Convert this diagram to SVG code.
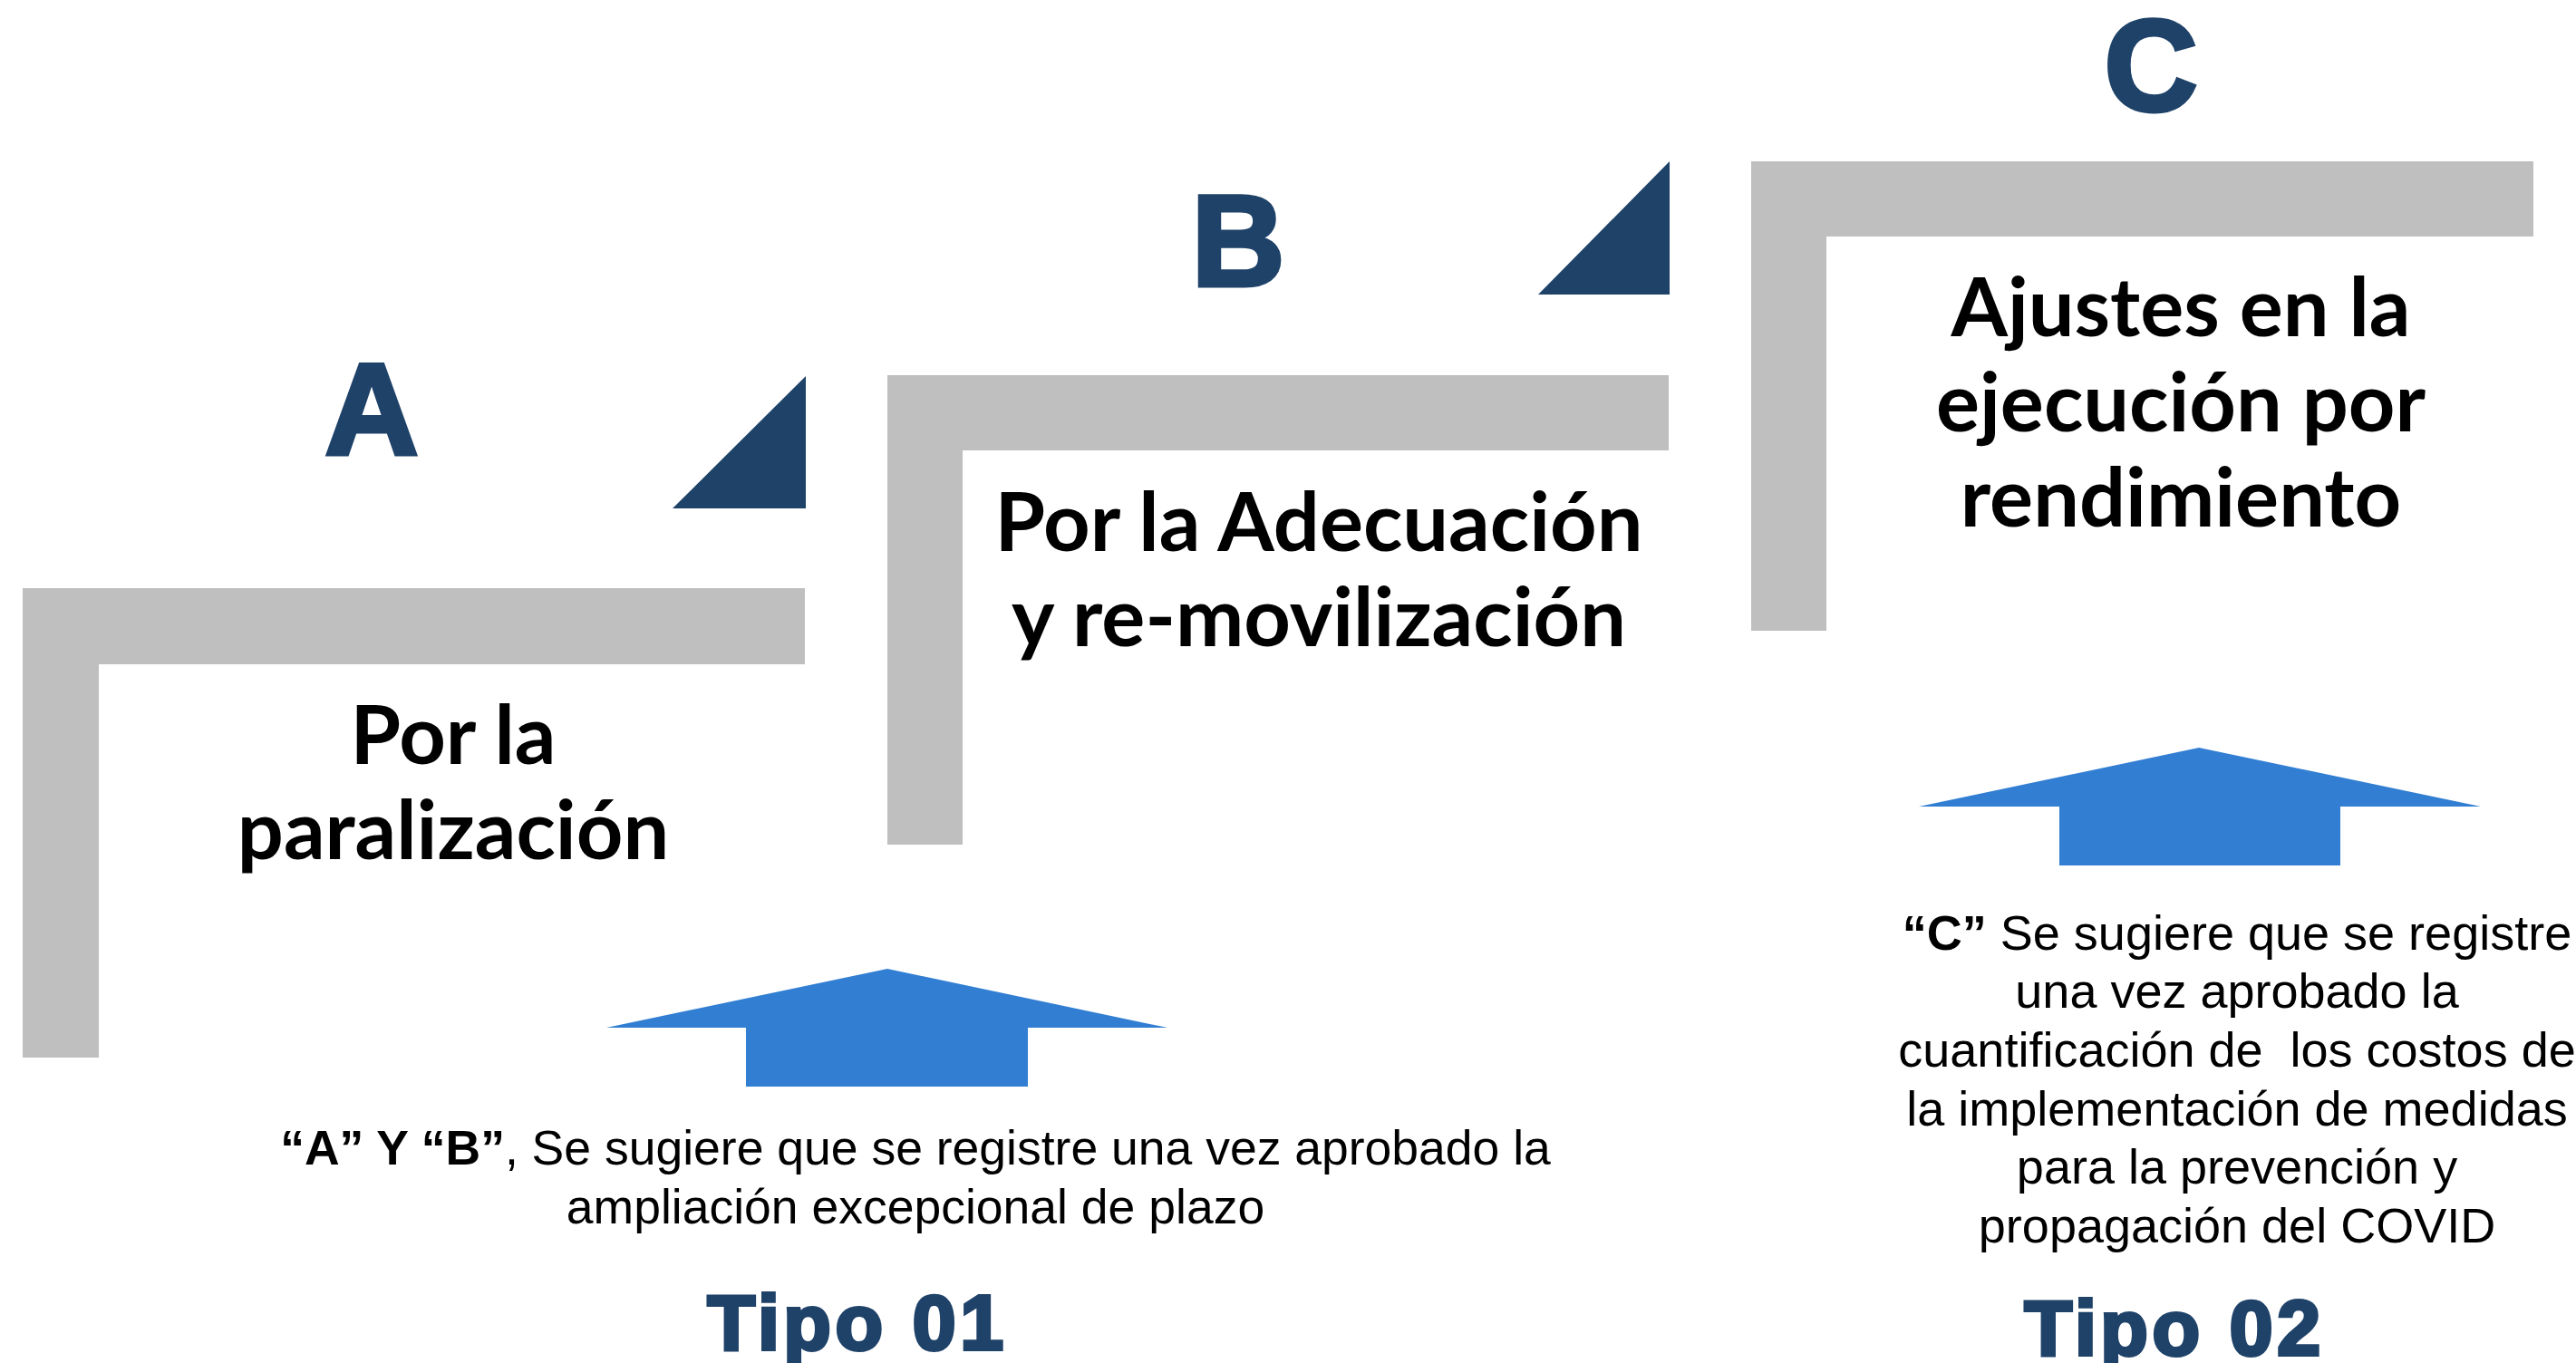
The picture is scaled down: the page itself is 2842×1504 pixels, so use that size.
<svg xmlns="http://www.w3.org/2000/svg" width="2842" height="1504" viewBox="0 0 2842 1504">
<style>
.step{fill:#BFBFBF}
.tri{fill:#1F4269}
.arrow{fill:#317ED2}
.letter{font-family:"Liberation Sans",Arial,sans-serif;font-weight:bold;font-size:142px;fill:#1F4269;stroke:#1F4269;stroke-width:5;text-anchor:middle}
.head{font-family:Lato,"Liberation Sans",sans-serif;font-weight:bold;font-size:90px;fill:#000;text-anchor:middle}
.note{font-family:"Liberation Sans",Arial,sans-serif;font-size:53.5px;fill:#000;text-anchor:middle}
.note2{font-family:"Liberation Sans",Arial,sans-serif;font-size:54px;fill:#000;text-anchor:middle}
.tipo{font-family:"Liberation Sans",Arial,sans-serif;font-weight:bold;font-size:86px;fill:#1F4269;stroke:#1F4269;stroke-width:4;text-anchor:middle;letter-spacing:4.5px}
</style>
<rect width="2842" height="1504" fill="#fff"/>
<g id="step-A">
<path class="step" d="M25 649 H888 V733 H109 V1167 H25 Z"/>
<polygon class="tri" points="889,415 889,561 742,561"/>
<text class="letter" x="410" y="501">A</text>
<text class="head" x="500" y="843">Por la</text>
<text class="head" x="500" y="948">paralización</text>
</g>
<g id="step-B">
<path class="step" d="M979 414 H1841 V497 H1062 V932 H979 Z"/>
<polygon class="tri" points="1842,178 1842,325 1697,325"/>
<text class="letter" x="1366" y="315">B</text>
<text class="head" x="1455" y="608">Por la Adecuación</text>
<text class="head" x="1455" y="713">y re-movilización</text>
</g>
<g id="step-C">
<path class="step" d="M1932 178 H2795 V261 H2015 V696 H1932 Z"/>
<text class="letter" x="2373" y="122">C</text>
<text class="head" x="2406" y="371">Ajustes en la</text>
<text class="head" x="2406" y="476">ejecución por</text>
<text class="head" x="2406" y="581">rendimiento</text>
</g>
<g id="connectors">
<polygon id="arrow-1" class="arrow" points="979,1069 1288,1134 1134,1134 1134,1199 823,1199 823,1134 669,1134"/>
<polygon id="arrow-2" class="arrow" points="2426,825 2737,890 2582,890 2582,955 2272,955 2272,890 2117,890"/>
</g>
<g id="note-tipo01">
<text class="note" x="1010" y="1285"><tspan font-weight="bold">“A” Y “B”</tspan>, Se sugiere que se registre una vez aprobado la</text>
<text class="note" x="1010" y="1350">ampliación excepcional de plazo</text>
<text class="tipo" x="946" y="1489">Tipo 01</text>
</g>
<g id="note-tipo02">
<text class="note2" x="2468" y="1048"><tspan font-weight="bold">“C”</tspan> Se sugiere que se registre</text>
<text class="note2" x="2468" y="1112">una vez aprobado la</text>
<text class="note2" x="2468" y="1177" xml:space="preserve">cuantificación de  los costos de</text>
<text class="note2" x="2468" y="1242">la implementación de medidas</text>
<text class="note2" x="2468" y="1306">para la prevención y</text>
<text class="note2" x="2468" y="1371">propagación del COVID</text>
<text class="tipo" x="2399" y="1495">Tipo 02</text>
</g>
</svg>
